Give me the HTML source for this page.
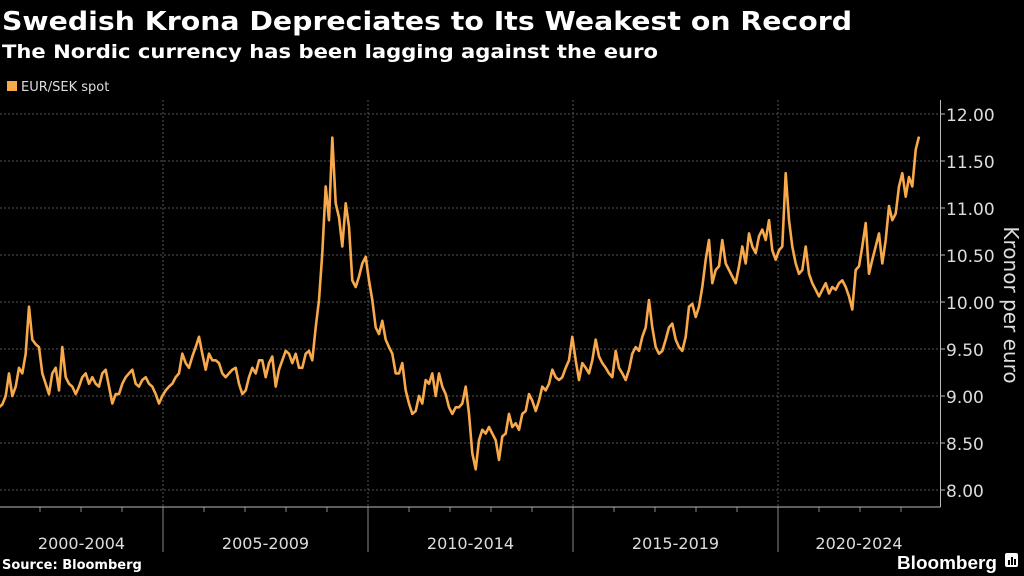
<!DOCTYPE html>
<html><head><meta charset="utf-8"><style>
html,body{margin:0;padding:0;background:#000;width:1024px;height:576px;overflow:hidden}
svg{display:block}
</style></head><body>
<svg id="chart" width="1024" height="576" viewBox="0 0 1024 576" xmlns="http://www.w3.org/2000/svg">
<rect width="1024" height="576" fill="#000"/>
<text x="2" y="30" fill="#fff" font-family="DejaVu Sans, sans-serif" font-weight="bold" font-size="26" textLength="850" lengthAdjust="spacingAndGlyphs">Swedish Krona Depreciates to Its Weakest on Record</text>
<text x="2" y="58" fill="#fff" font-family="DejaVu Sans, sans-serif" font-weight="bold" font-size="19" textLength="656" lengthAdjust="spacingAndGlyphs">The Nordic currency has been lagging against the euro</text>
<g>
<rect x="7" y="81" width="10" height="10" fill="#f7a94b"/>
<text x="21" y="91" fill="#ddd" font-family="DejaVu Sans, sans-serif" font-size="13">EUR/SEK spot</text>
</g>
<g id="grid"></g>
<g id="axes"></g>
<path id="series" fill="none" stroke="#f7a94b" stroke-width="2.6" stroke-linejoin="round"/>
<text transform="translate(1004,305) rotate(90)" text-anchor="middle" fill="#ddd" font-family="DejaVu Sans, sans-serif" font-size="20">Kronor per euro</text>
<text x="2" y="569" fill="#fff" font-family="DejaVu Sans, sans-serif" font-weight="bold" font-size="13">Source: Bloomberg</text>
<g>
<text x="897" y="569" fill="#fff" font-family="Liberation Sans, sans-serif" font-weight="bold" font-size="18" textLength="100" lengthAdjust="spacingAndGlyphs">Bloomberg</text>
<rect x="1005" y="553" width="13" height="14" rx="2" fill="#fff"/>
<rect x="1008" y="560" width="2" height="5" fill="#000"/><rect x="1011" y="557" width="2" height="8" fill="#000"/><rect x="1014" y="559" width="2" height="6" fill="#000"/>
</g>
</svg>
<script>
const yTicks = [8.0, 8.5, 9.0, 9.5, 10.0, 10.5, 11.0, 11.5, 12.0];
const periodLabels = ["2000-2004", "2005-2009", "2010-2014", "2015-2019", "2020-2024"];
const periodStarts = [2000, 2005, 2010, 2015, 2020];
const startYear = 2001;
const stepYears = 0.0813;
const values = [
8.88,8.91,9.0,9.24,9.0,9.1,9.3,9.24,9.45,9.95,9.6,9.55,9.52,9.24,9.13,9.02,9.24,9.3,9.06,9.52,
9.2,9.13,9.1,9.02,9.1,9.2,9.24,9.13,9.2,9.13,9.1,9.24,9.28,9.1,8.92,9.02,9.02,9.13,9.2,9.24,
9.28,9.13,9.1,9.17,9.2,9.13,9.1,9.02,8.92,9.0,9.06,9.1,9.13,9.2,9.24,9.45,9.35,9.3,9.42,9.52,
9.63,9.45,9.28,9.45,9.38,9.38,9.35,9.24,9.2,9.24,9.28,9.3,9.13,9.02,9.06,9.2,9.3,9.24,9.38,9.38,
9.2,9.35,9.42,9.1,9.28,9.38,9.48,9.45,9.35,9.45,9.3,9.3,9.45,9.48,9.38,9.73,10.02,10.52,11.23,10.87,
11.75,11.05,10.9,10.59,11.05,10.8,10.23,10.16,10.27,10.41,10.48,10.23,10.02,9.73,9.66,9.8,9.6,9.52,9.45,9.24,
9.24,9.35,9.06,8.92,8.81,8.84,9.0,8.92,9.17,9.13,9.24,9.0,9.24,9.1,9.02,8.88,8.81,8.88,8.88,8.92,
9.1,8.81,8.39,8.22,8.53,8.64,8.6,8.67,8.6,8.53,8.32,8.57,8.6,8.81,8.67,8.71,8.64,8.81,8.84,9.02,
8.95,8.84,8.95,9.1,9.06,9.13,9.28,9.2,9.17,9.2,9.3,9.38,9.63,9.38,9.17,9.35,9.3,9.24,9.38,9.6,
9.42,9.35,9.3,9.24,9.2,9.48,9.3,9.24,9.17,9.28,9.45,9.52,9.48,9.63,9.73,10.02,9.73,9.52,9.45,9.48,
9.6,9.73,9.77,9.6,9.52,9.48,9.63,9.95,9.98,9.84,9.95,10.16,10.45,10.66,10.2,10.34,10.38,10.66,10.41,10.34,
10.27,10.2,10.38,10.59,10.41,10.73,10.59,10.52,10.7,10.77,10.66,10.87,10.55,10.45,10.55,10.59,11.37,10.87,10.59,10.41,
10.3,10.34,10.59,10.3,10.2,10.13,10.06,10.13,10.2,10.09,10.16,10.13,10.2,10.23,10.16,10.06,9.92,10.34,10.38,10.59,
10.84,10.3,10.45,10.59,10.73,10.41,10.66,11.02,10.87,10.94,11.23,11.37,11.12,11.33,11.23,11.62,11.76
];
const xScale = t => 778 + (t - 2020) * 41;
const yScale = v => 490 - (v - 8) * 94;
const NS = "http://www.w3.org/2000/svg";
const grid = document.getElementById("grid");
const axes = document.getElementById("axes");
function mk(tag, attrs, parent){const e=document.createElementNS(NS,tag);for(const k in attrs)e.setAttribute(k,attrs[k]);parent.appendChild(e);return e;}
yTicks.forEach(v => {
  const y = yScale(v);
  const g = mk("line",{x1:0,x2:940,y1:y,y2:y,stroke:"#555","stroke-dasharray":"2,2","stroke-width":1},grid);
  
  
  mk("line",{x1:940,x2:945,y1:y,y2:y,stroke:"#bbb"},axes);
  const t = mk("text",{x:946,y:y+7,fill:"#ddd","font-family":"DejaVu Sans, sans-serif","font-size":"17"},axes);
  t.textContent = v.toFixed(2);
  
  
  if (v < 12) mk("line",{x1:940,x2:944,y1:y-47,y2:y-47,stroke:"#bbb"},axes);
});
periodStarts.forEach((p, i) => {
  const x = xScale(p);
  if (i > 0) {
    const g = mk("line",{x1:x,x2:x,y1:100,y2:507,stroke:"#555","stroke-dasharray":"2,2"},grid);
    
    
    mk("line",{x1:x,x2:x,y1:507,y2:552,stroke:"#888"},axes);
  }
  for (let k = 1; k < 5; k++) { const xx = xScale(p + k); if (xx > 0 && xx < 940) mk("line",{x1:xx,x2:xx,y1:507,y2:512,stroke:"#888"},axes); }
  const t = mk("text",{x:(Math.max(x,0)+Math.min(xScale(p+5),940))/2,y:549,fill:"#ddd","text-anchor":"middle","font-family":"DejaVu Sans, sans-serif","font-size":"16"},axes);
  t.textContent = periodLabels[i];
  
  
});
mk("line",{x1:0,x2:940.5,y1:507,y2:507,stroke:"#bbb"},axes);
mk("line",{x1:940.5,x2:940.5,y1:100,y2:507,stroke:"#bbb"},axes);
let d = "";
values.forEach((v, i) => { const x = xScale(startYear + i * stepYears); d += (i ? "L" : "M") + x.toFixed(1) + "," + yScale(v).toFixed(1); });
document.getElementById("series").setAttribute("d", d);
</script>
</body></html>
